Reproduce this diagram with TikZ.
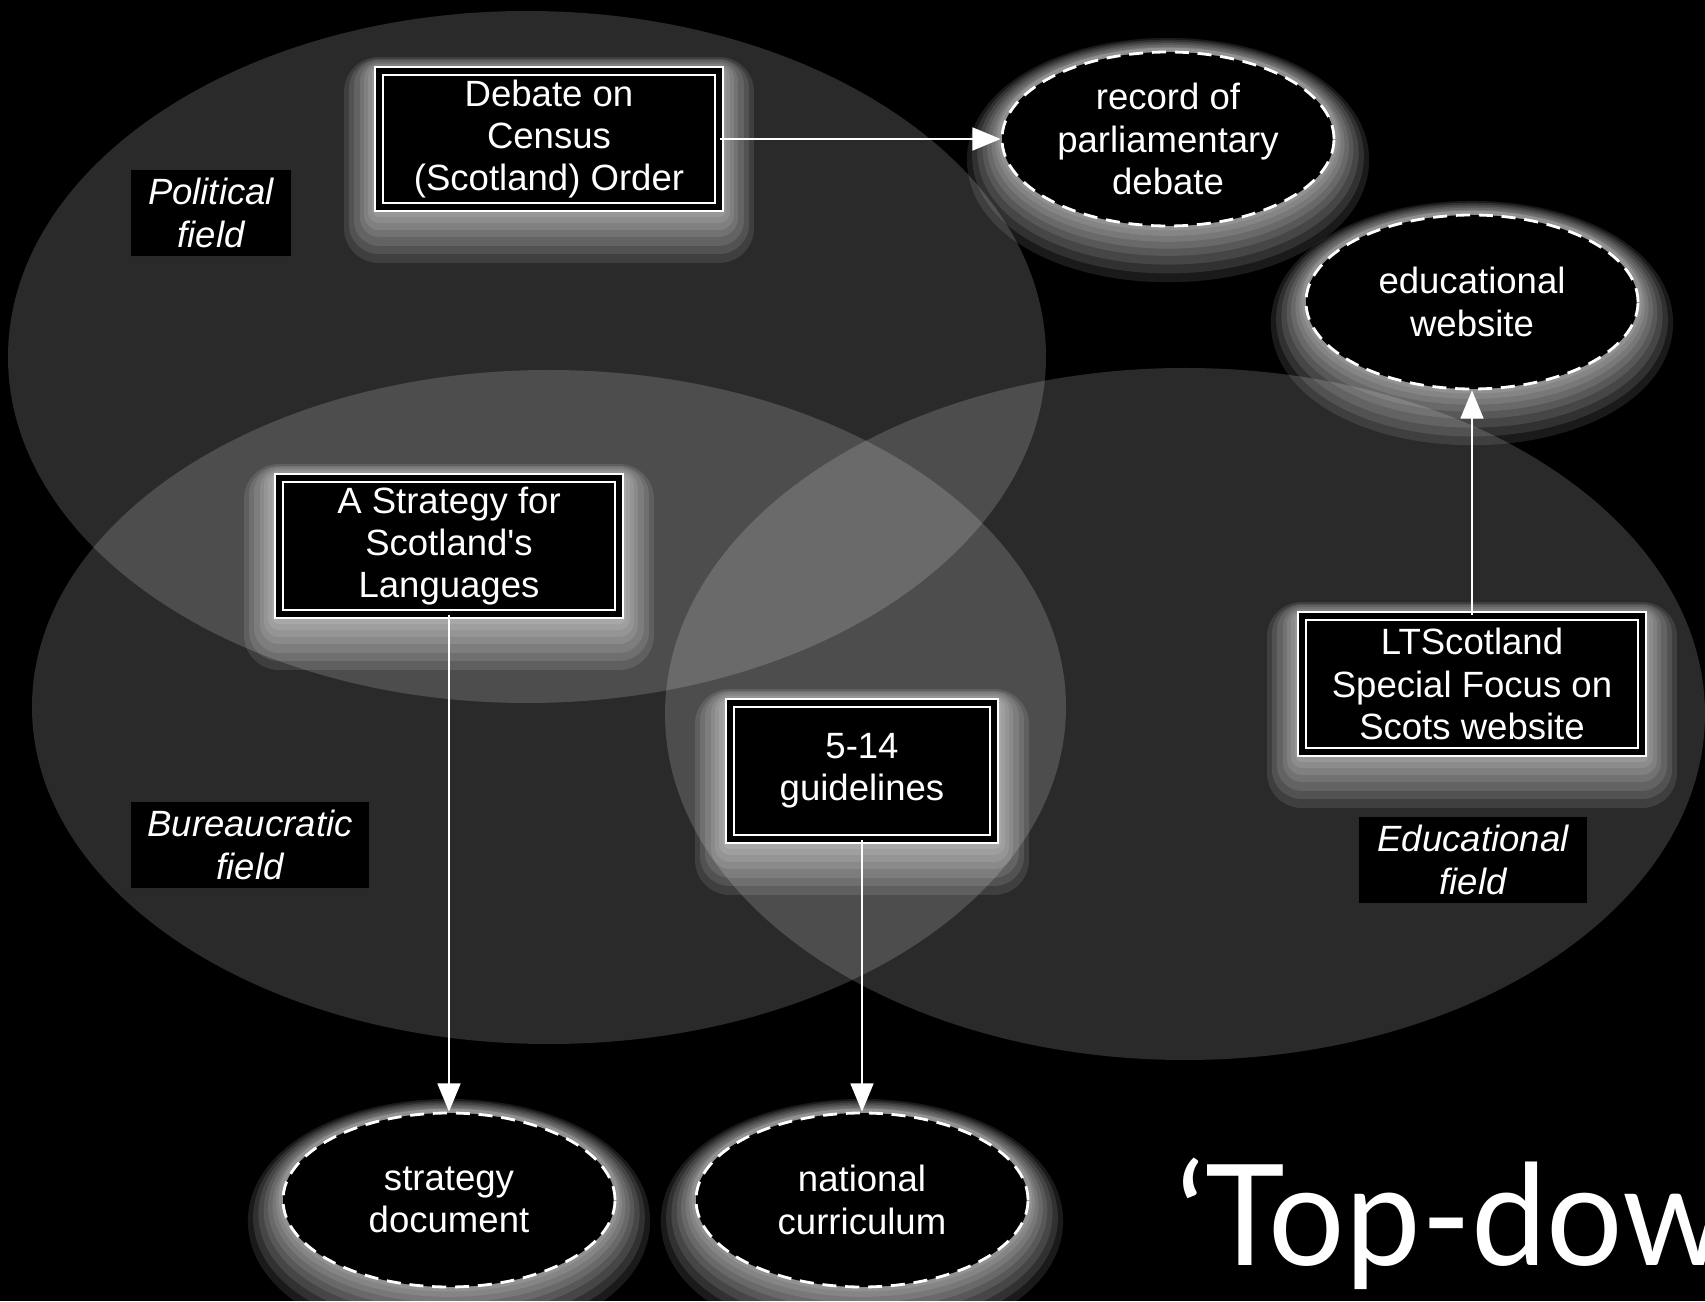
\documentclass[tikz,border=0pt]{standalone}
\usepackage{fontspec}
\setmainfont{Liberation Sans}[Ligatures=TeXOff]
\newfontfamily\headfont{Lato}[FakeStretch=0.96]
\usetikzlibrary{shapes.geometric,arrows.meta}
\newcommand\boxfont{\fontsize{10.4}{12}\selectfont}
\tikzset{
  halo/.style 2 args={preaction={draw=white,solid,line join=round,draw opacity=0.1,
    line width=#1,transform canvas={yshift=#2}}},
  glow/.style={halo={20pt}{-6pt},halo={17pt}{-5pt},halo={14pt}{-4pt},halo={11pt}{-3pt},
    halo={8.5pt}{-2.2pt},halo={6pt}{-1.5pt},halo={4pt}{-0.8pt},halo={2.5pt}{0pt}}
}
\begin{document}
\begin{tikzpicture}
    [field/.style={fill=white,fill opacity=0.165},
     doc/.style={rectangle,draw=white,double=black,double distance=1.6pt,line width=0.6pt,
       fill=black,text=white,align=center,font=\boxfont,inner sep=2pt,
       minimum width=3.40cm,minimum height=1.36cm,glow},
     result/.style={ellipse,draw=white,line width=0.8pt,dash pattern=on 4pt off 2.5pt,
       fill=black,text=white,align=center,font=\boxfont,inner sep=0pt,
       minimum width=3.32cm,minimum height=1.74cm,glow},
     tag/.style={rectangle,fill=black,draw=white!16!black,text=white,align=center,
       font=\boxfont\itshape,inner sep=1pt,minimum height=0.87cm},
     pre/.style={<-,>={Triangle[length=8pt,width=6.5pt]},white,semithick}]
    \useasboundingbox (0,0) rectangle (17.05,13.01);
    \clip (0,0) rectangle (17.05,13.01);
    \fill [black] (0,0) rectangle (17.05,13.01);
    % the three fields
    \fill [field] (5.27,9.44) ellipse [x radius=5.19, y radius=3.46];
    \fill [field] (5.49,5.94) ellipse [x radius=5.17, y radius=3.37];
    \fill [field] (11.85,5.87) ellipse [x radius=5.20, y radius=3.46];
    \node [tag,minimum width=1.61cm] (political) at (2.11,10.88) {Political\\field};
    \node [tag,minimum width=2.40cm] (bureaucratic) at (2.50,4.56) {Bureaucratic\\field};
    \node [tag,minimum width=2.29cm] (educational) at (14.73,4.41) {Educational\\field};
    % texts and what they become
    \node [doc] (debate) at (5.49,11.62) {Debate on\\Census\\(Scotland) Order};
    \node [result] (record) at (11.68,11.62) {record of\\parliamentary\\debate}
      edge [pre] (debate);
    \node [doc] (strategy) at (4.49,7.55) {A Strategy for\\Scotland's\\Languages};
    \node [result] (stratdoc) at (4.49,1.01) {strategy\\document}
      edge [pre] (strategy);
    \node [doc,minimum width=2.64cm] (guidelines) at (8.62,5.30) {5-14\\guidelines};
    \node [result] (natcurr) at (8.62,1.01) {national\\curriculum}
      edge [pre] (guidelines);
    \node [doc] (ltscot) at (14.72,6.17) {LTScotland\\Special Focus on\\Scots website};
    \node [result] (eduweb) at (14.72,9.99) {educational\\website}
      edge [pre] (ltscot);
    \node [anchor=base west,inner sep=0pt,text=white,font=\headfont\fontsize{40}{40}\selectfont]
      (title) at (11.76,0.36) {‘Top-down’};
  \end{tikzpicture}
\end{document}
